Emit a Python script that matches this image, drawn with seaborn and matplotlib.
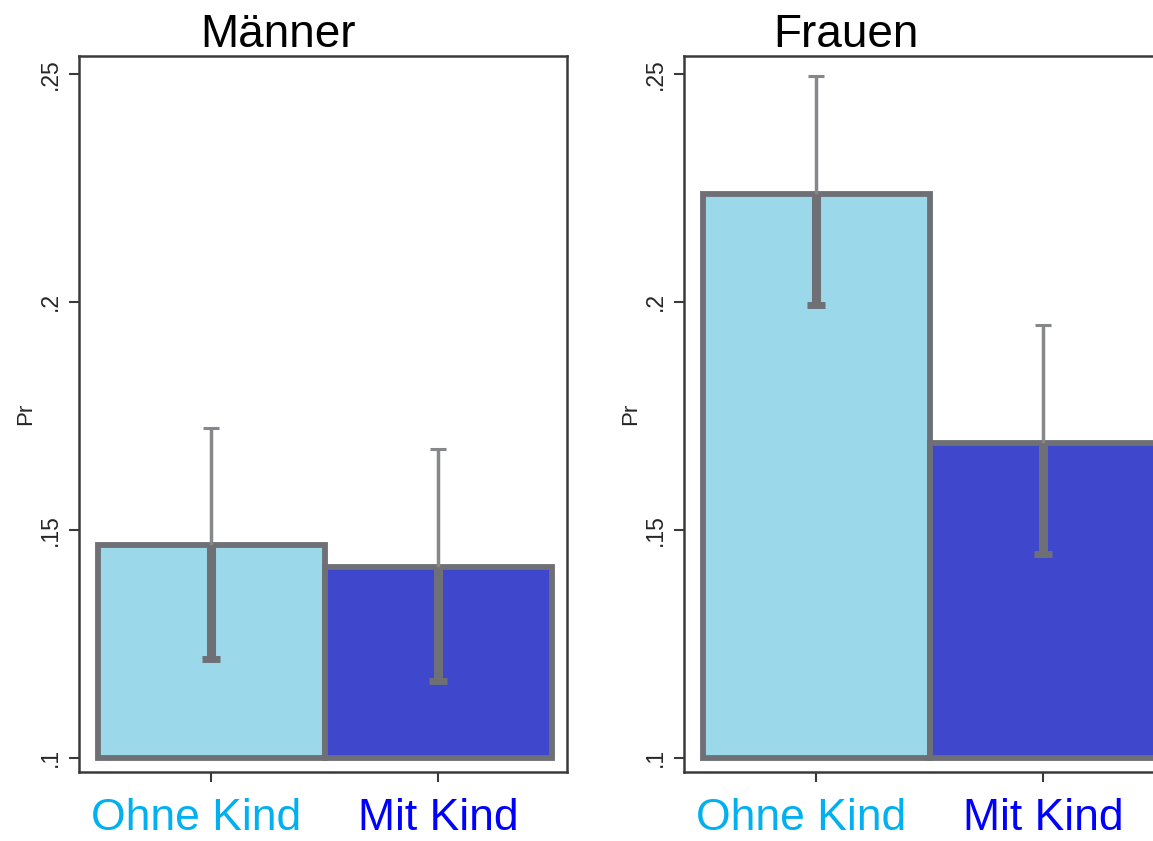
import numpy as np
import pandas as pd
import matplotlib
matplotlib.use("Agg")
import matplotlib.pyplot as plt
import seaborn as sns
from matplotlib.transforms import ScaledTranslation

# ---- data ----
panels = ["Männer", "Frauen"]
categories = ["Ohne Kind", "Mit Kind"]
men_values = [0.1466, 0.1418]
men_lower = [0.1217, 0.1169]
men_upper = [0.1724, 0.1678]
women_values = [0.2237, 0.1691]
women_lower = [0.1993, 0.1447]
women_upper = [0.2496, 0.1950]
y_ticks = [0.10, 0.15, 0.20, 0.25]
y_ticklabels = [".1", ".15", ".2", ".25"]
base = 0.1

# ---- style ----
bar_colors = ["#9bd8ea", "#3f48cc"]
label_colors = ["#00b0f0", "#0000ff"]
edge_color = "#6e7075"
err_thin_color = "#85878a"
err_thick_color = "#6e7075"
spine_color = "#3a3a3a"

sns.set_style("ticks")
plt.rcParams["font.family"] = ["Liberation Sans", "DejaVu Sans"]

W, H = 1153, 841
fig = plt.figure(figsize=(W / 100, H / 100), dpi=100)
axes_pos = [
    [79 / W, 69 / H, 488 / W, 716 / H],
    [684 / W, 69 / H, 488 / W, 716 / H],
]
title_x = [278.5 / W, 846 / W]

series = [
    (men_values, men_lower, men_upper),
    (women_values, women_lower, women_upper),
]

for i, (panel, (vals, lo, hi)) in enumerate(zip(panels, series)):
    ax = fig.add_axes(axes_pos[i])
    df = pd.DataFrame({"Kind": categories, "Pr": vals, "lower": lo, "upper": hi})
    df["height"] = df["Pr"] - base
    sns.barplot(
        data=df, x="Kind", y="height", hue="Kind", palette=bar_colors,
        saturation=1, width=1.0, bottom=base, edgecolor=edge_color,
        linewidth=4.2, legend=False, errorbar=None, ax=ax,
    )
    xs = np.arange(len(categories))
    # upper (thin) part of the interval
    ax.vlines(xs, df["Pr"], df["upper"], color=err_thin_color, lw=2.5, zorder=3)
    ax.plot(xs, df["upper"], ls="none", marker="_", ms=11, mew=2.2,
            color=err_thin_color, zorder=3)
    # lower (thick) part of the interval
    ax.vlines(xs, df["lower"], df["Pr"], color=err_thick_color, lw=6.5, zorder=3)
    ax.plot(xs, df["lower"], ls="none", marker="_", ms=13, mew=5,
            color=err_thick_color, zorder=3)

    ax.set_xlim(-0.583, 1.566)
    ax.set_ylim(0.0969, 0.2539)

    ax.set_yticks(y_ticks)
    ax.set_yticklabels(y_ticklabels, rotation=90, va="center", fontsize=16.5)
    ax.tick_params(axis="y", length=7, width=1.5, pad=5, color=spine_color)

    ax.set_xticks(xs)
    ax.set_xticklabels(categories, fontsize=32)
    ax.tick_params(axis="x", length=7, width=1.5, pad=12, color=spine_color)
    for lab, c in zip(ax.get_xticklabels(), label_colors):
        lab.set_color(c)
    first = ax.get_xticklabels()[0]
    first.set_transform(first.get_transform() +
                        ScaledTranslation(-15 / 100, 0, fig.dpi_scale_trans))

    ax.set_xlabel("")
    ax.set_ylabel("Pr", fontsize=16)
    ax.yaxis.set_label_coords(-0.088, 0.5)

    for s in ax.spines.values():
        s.set_color(spine_color)
        s.set_linewidth(1.8)

    fig.text(title_x[i], 1 - 47 / H, panel, fontsize=33, ha="center",
             va="baseline", color="black")

fig.savefig("out.png", dpi=100)
